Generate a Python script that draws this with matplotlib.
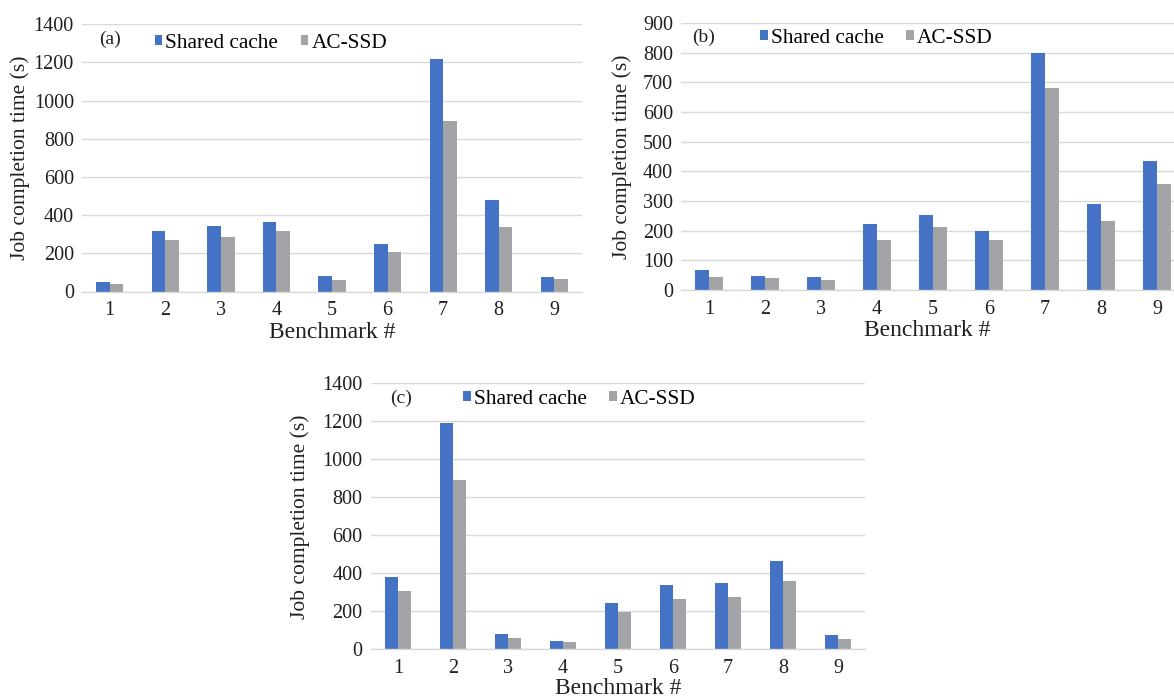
import matplotlib
matplotlib.use("Agg")
import matplotlib.pyplot as plt
import numpy as np

benchmarks = ["1", "2", "3", "4", "5", "6", "7", "8", "9"]

shared_a = [49, 317, 343, 364, 80, 248, 1216, 478, 77]
acssd_a = [37, 268, 287, 315, 61, 205, 891, 336, 63]

shared_b = [67, 47, 44, 221, 252, 200, 800, 291, 434]
acssd_b = [45, 39, 33, 169, 212, 170, 681, 233, 358]

shared_c = [378, 1191, 79, 42, 244, 339, 351, 465, 76]
acssd_c = [306, 892, 60, 39, 198, 265, 276, 358, 56]

plt.rcParams['font.family'] = ['Liberation Serif', 'DejaVu Serif']

BLUE = '#4472C4'
GRAY = '#A3A4A7'
GRID = '#D9D9D9'
TXT = '#231F20'
FS_TICK = 14.5
FS_LEG = 15.3
FS_XLAB = 17
FS_YLAB = 15.5

W, H = 1174, 698
fig = plt.figure(figsize=(W / 100, H / 100), dpi=100)


def panel(left, right, top, bottom, xmax, shared, acssd, ymax, ystep, tag,
          leg_px, tag_px, leg_y, tag_y, ylab_x, xlab_y):
    aw = right - left
    ah = bottom - top
    ax = fig.add_axes([left / W, (H - bottom) / H, aw / W, ah / H])
    x = np.arange(1, len(benchmarks) + 1)
    w = 0.245
    ax.bar(x - w / 2, shared, w, color=BLUE, label='Shared cache', zorder=3)
    ax.bar(x + w / 2, acssd, w, color=GRAY, label='AC-SSD', zorder=3)
    ax.set_xlim(0.5, xmax)
    ax.set_ylim(0, ymax)
    ax.set_yticks(np.arange(0, ymax + 1, ystep))
    ax.set_xticks(x)
    ax.set_xticklabels(benchmarks)
    ax.yaxis.grid(True, color=GRID, linewidth=1.0, zorder=0)
    ax.set_axisbelow(True)
    for s in ['top', 'right', 'left']:
        ax.spines[s].set_visible(False)
    ax.spines['bottom'].set_color(GRID)
    ax.spines['bottom'].set_linewidth(1.0)
    ax.spines['bottom'].set_zorder(4)
    ax.tick_params(axis='both', length=0, labelsize=FS_TICK, colors=TXT)
    ax.tick_params(axis='x', pad=7)
    ax.tick_params(axis='y', pad=5.8)
    ax.set_xlabel('Benchmark #', fontsize=FS_XLAB, color=TXT, va='center')
    ax.xaxis.set_label_coords(0.5, (bottom - xlab_y) / ah)
    ax.set_ylabel('Job completion time (s)', fontsize=FS_YLAB, color=TXT, va='center')
    ax.yaxis.set_label_coords((ylab_x - left) / aw, 0.5)
    ax.legend(loc='center left', bbox_to_anchor=((leg_px - left) / aw, (bottom - leg_y) / ah),
              ncol=2, frameon=False, fontsize=FS_LEG, handlelength=0.36, handleheight=0.36,
              handletextpad=0.15, columnspacing=1.05, borderpad=0, borderaxespad=0)
    ax.text((tag_px - left) / aw, (bottom - tag_y) / ah, tag, transform=ax.transAxes,
            fontsize=14, color=TXT, va='center', ha='left')
    return ax


# (a)
panel(82, 582, 24.3, 291.5, 9.5, shared_a, acssd_a, 1400, 200, '(a)',
      leg_px=154.5, tag_px=99, leg_y=43, tag_y=39, ylab_x=20, xlab_y=333)
# (b) - cropped at the right image edge
panel(681, 1174, 23, 290, 0.5 + (1174 - 681) / 56.0, shared_b, acssd_b, 900, 100, '(b)',
      leg_px=760, tag_px=692.5, leg_y=38.5, tag_y=37, ylab_x=622, xlab_y=331)
# (c)
panel(370.5, 865.5, 383.3, 649.3, 9.5, shared_c, acssd_c, 1400, 200, '(c)',
      leg_px=463, tag_px=390, leg_y=399.5, tag_y=398, ylab_x=300, xlab_y=689)

fig.savefig('out.png', dpi=100)
